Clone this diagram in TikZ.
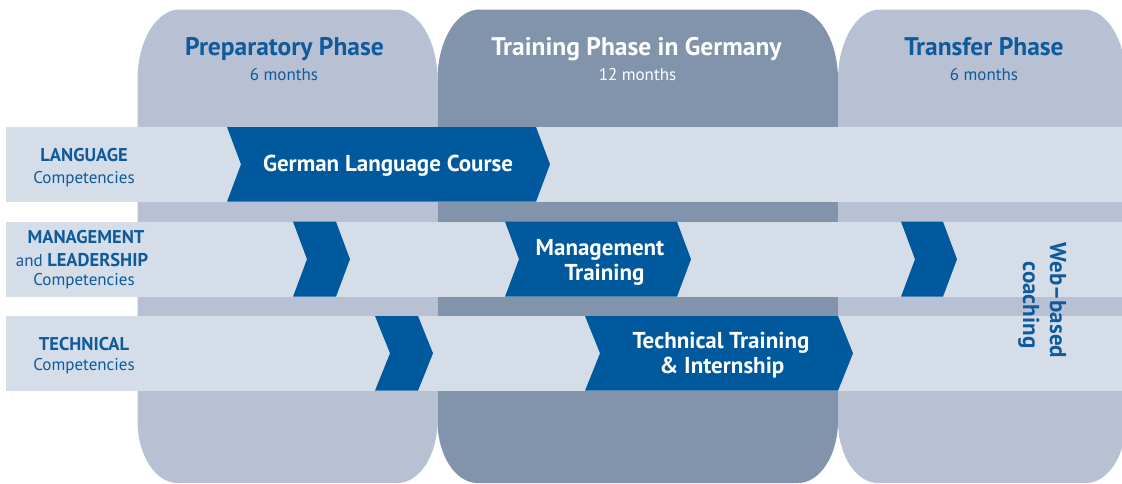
\documentclass[tikz,border=0pt]{standalone}
\usepackage{fontspec}
\setmainfont{PT Sans}
\definecolor{colLight}{HTML}{B7C1D3}
\definecolor{colDark}{HTML}{8194AC}
\definecolor{bandCol}{HTML}{D5DEE8}
\definecolor{chevCol}{HTML}{00589D}
\definecolor{txtBlue}{HTML}{0F5A9B}
\newcommand\phasepath[3]{%
 \fill[#3] (#1,79.5) .. controls (#1,40.8) and ({#1+19},9.5) .. ({#1+42},9.5)
   -- ({#2-42},9.5) .. controls ({#2-19},9.5) and (#2,40.8) .. (#2,79.5)
   -- (#2,421) .. controls (#2,455.2) and ({#2-18},483) .. ({#2-40},483)
   -- ({#1+40},483) .. controls ({#1+18},483) and (#1,455.2) .. (#1,421) -- cycle;}
\tikzset{
  titletxt/.style={font=\bfseries\fontsize{25.5}{29}\selectfont, anchor=base, inner sep=0pt},
  subtxt/.style={font=\fontsize{17}{20}\selectfont, anchor=base, inner sep=0pt},
  rowbold/.style={font=\bfseries\fontsize{18.5}{21}\selectfont, text=txtBlue, anchor=base, inner sep=0pt},
  rowreg/.style={font=\fontsize{17}{21}\selectfont, text=txtBlue, anchor=base, inner sep=0pt},
  chevtxt/.style={font=\bfseries\fontsize{23}{26}\selectfont, text=white, anchor=base, inner sep=0pt},
  webtxt/.style={font=\bfseries\fontsize{23}{26}\selectfont, text=txtBlue, anchor=base, inner sep=0pt, rotate=-90},
  chev/.style={fill=chevCol},
  band/.style={fill=bandCol}
}
\begin{document}
\begin{tikzpicture}[x=1pt,y=-1pt]
\useasboundingbox (0,0) rectangle (1122,483);
\begin{scope}
\clip (0,0) rectangle (1122,483);
% phase columns
\phasepath{137.5}{437.5}{colLight}
\phasepath{437.5}{838}{colDark}
\phasepath{838}{1126}{colLight}
% bands
\fill[band] (6,127) rectangle (1122,201.7);
\fill[band] (6,221.7) rectangle (1122,296.7);
\fill[band] (6,316) rectangle (1122,390.7);
% chevrons language
\fill[chev] (227,127) -- (536,127) -- (550,164.3) -- (536,201.7) -- (227,201.7) -- (241,164.3) -- cycle;
% chevrons management
\fill[chev] (293,221.7) -- (336,221.7) -- (350,259.2) -- (336,296.7) -- (293,296.7) -- (307,259.2) -- cycle;
\fill[chev] (505,221.7) -- (677,221.7) -- (691,259.2) -- (677,296.7) -- (505,296.7) -- (519,259.2) -- cycle;
\fill[chev] (901,221.7) -- (943,221.7) -- (957,259.2) -- (943,296.7) -- (901,296.7) -- (915,259.2) -- cycle;
% chevrons technical
\fill[chev] (375,316) -- (418,316) -- (433,353.3) -- (418,390.7) -- (375,390.7) -- (390,353.3) -- cycle;
\fill[chev] (585,316) -- (838,316) -- (853,353.3) -- (838,390.7) -- (585,390.7) -- (600,353.3) -- cycle;
\end{scope}
% phase titles
\node[titletxt, text=txtBlue] (prepT) at (284.5,55.7) {Preparatory Phase};
\node[subtxt, text=txtBlue] (prepM) at (284,80) {6 months};
\node[titletxt, text=white] (trainT) at (636.5,55.7) {Training Phase in Germany};
\node[subtxt, text=white] (trainM) at (637.5,80) {12 months};
\node[titletxt, text=txtBlue] (transT) at (984,55.7) {Transfer Phase};
\node[subtxt, text=txtBlue] (transM) at (984,80) {6 months};
% row labels
\node[rowbold] (langA) at (84,161.7) {LANGUAGE};
\node[rowreg] (langB) at (84,183.3) {Competencies};
\node[rowbold] (mgmtA) at (86,243.3) {MANAGEMENT};
\node[rowreg] (mgmtB) at (82,266) {and {\bfseries\fontsize{18.5}{21}\selectfont LEADERSHIP}};
\node[rowreg] (mgmtC) at (84,285.7) {Competencies};
\node[rowbold] (techA) at (84,350) {TECHNICAL};
\node[rowreg] (techB) at (84,370.7) {Competencies};
% chevron texts
\node[chevtxt] (glc) at (388,171.7) {German Language Course};
\node[chevtxt] (mtA) at (600,255) {Management};
\node[chevtxt] (mtB) at (604.5,280) {Training};
\node[chevtxt] (ttA) at (721,348.3) {Technical Training};
\node[chevtxt] (ttB) at (722,373.3) {\& Internship};
% web-based coaching
\node[webtxt] (webA) at (1050,300.5) {Web–based};
\node[webtxt] (webB) at (1023,305) {coaching};
\end{tikzpicture}
\end{document}
